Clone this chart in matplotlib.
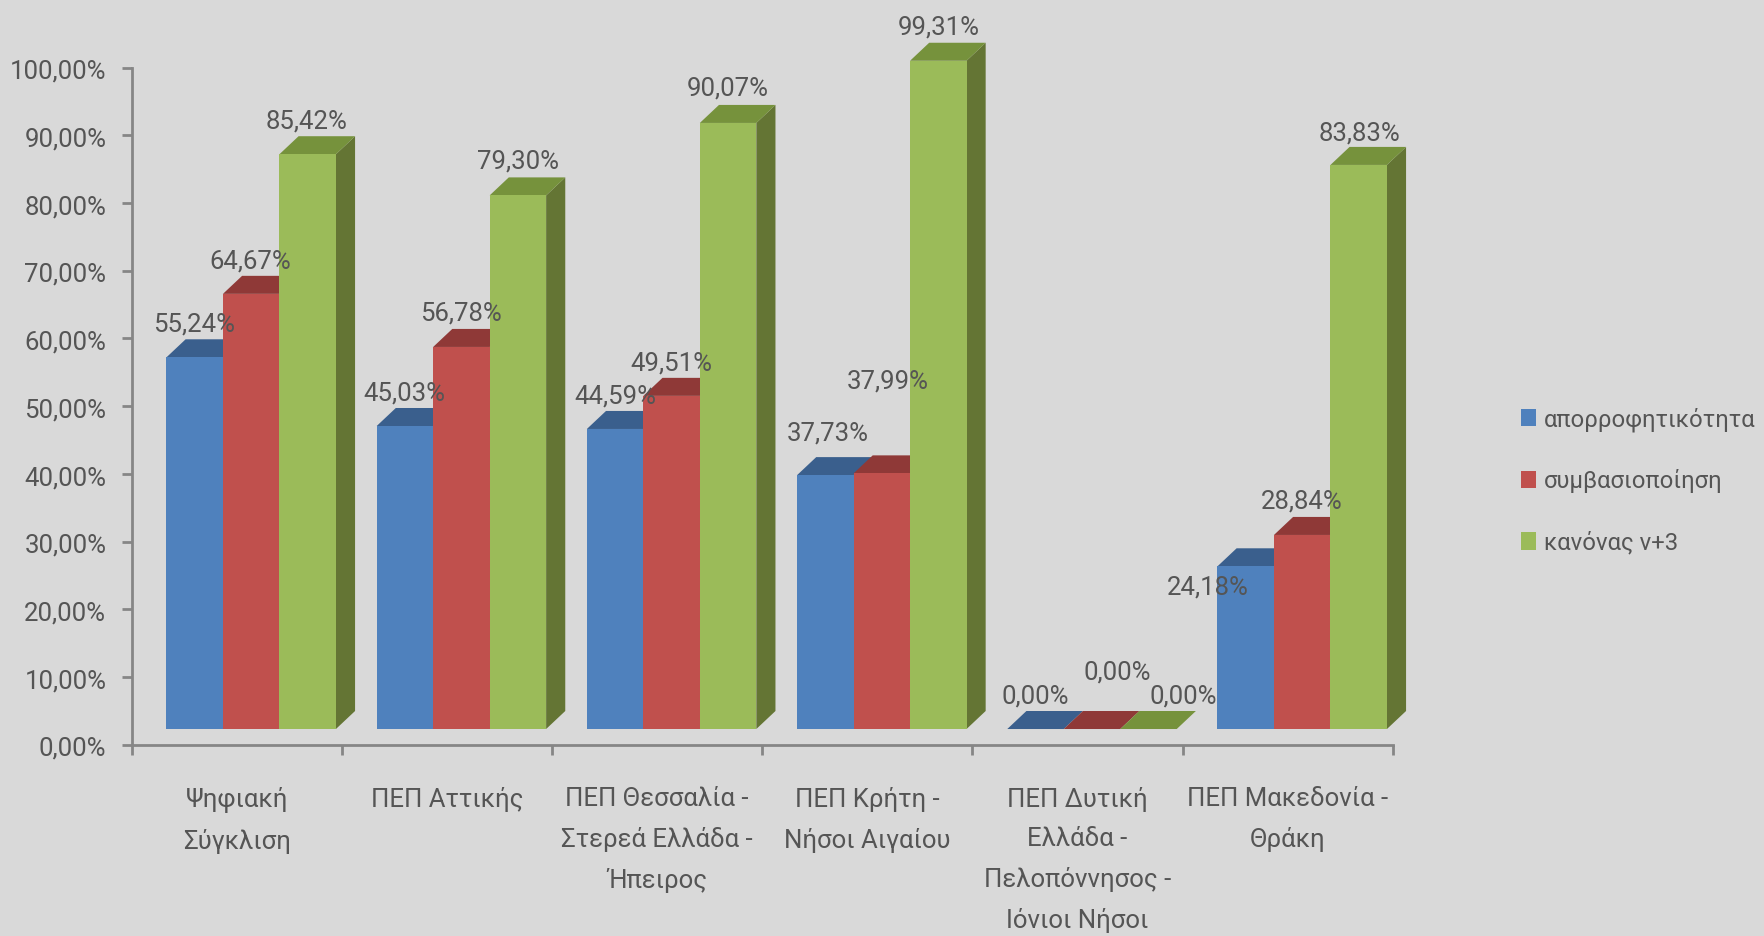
import matplotlib
matplotlib.use("Agg")
import matplotlib.pyplot as plt
from matplotlib.patches import Patch
from matplotlib.transforms import ScaledTranslation

plt.rcParams['font.family'] = ['Roboto', 'Liberation Sans', 'DejaVu Sans']

categories = ["Ψηφιακή\nΣύγκλιση", "ΠΕΠ Αττικής", "ΠΕΠ Θεσσαλία -\nΣτερεά Ελλάδα -\nΉπειρος",
              "ΠΕΠ Κρήτη -\nΝήσοι Αιγαίου", "ΠΕΠ Δυτική\nΕλλάδα -\nΠελοπόννησος -\nΙόνιοι Νήσοι",
              "ΠΕΠ Μακεδονία -\nΘράκη"]
series_names = ["απορροφητικότητα", "συμβασιοποίηση", "κανόνας ν+3"]
absorption = [55.24, 45.03, 44.59, 37.73, 0.00, 24.18]
contracting = [64.67, 56.78, 49.51, 37.99, 0.00, 28.84]
n3_rule = [85.42, 79.30, 90.07, 99.31, 0.00, 83.83]
series = [absorption, contracting, n3_rule]

front = ["#4F81BD", "#C0504D", "#9BBB59"]
top = ["#3A5F8D", "#8F3937", "#76923C"]
side = ["#2F4D73", "#743030", "#647534"]
BG = "#D9D9D9"
TXT = "#555555"
AX = "#868686"
FS = 18.5

# label offsets in image pixels, relative to the bar's front top centre
label_dx = [[-1, -1, 0, 2, 0, -38], [-1, 0, 0, 6, 25, 0], [-1, 0, 0, 0, 35, 1]]
label_dy = [[33, 33, 32, 42, 33, -21], [32, 33, 32, 92, 57, 33], [33, 34, 34, 33, 33, 31]]

W, H = 1764, 936
fig = plt.figure(figsize=(W / 100, H / 100), dpi=100, facecolor=BG)
L, R, T, B = 131.6, 1392.8, 67.5, 744.8
ax = fig.add_axes([L / W, 1 - B / H, (R - L) / W, (B - T) / H], facecolor=BG)
ax.set_xlim(0, 6)
ax.set_ylim(0, 100)

bar_w = 0.2687
start = 0.166
dx3, dy3 = 0.091, 2.66
base = 2.33
depth_scale = 0.9935  # front plane of the 3D box is slightly smaller than the axis

for s, vals in enumerate(series):
    for g, v in enumerate(vals):
        x0 = g + start + s * bar_w
        x1 = x0 + bar_w
        h = v * depth_scale
        yt = base + h
        ax.fill([x1, x1 + dx3, x1 + dx3, x1], [base, base + dy3, yt + dy3, yt],
                color=side[s], lw=0, clip_on=False, zorder=2 + s)
        ax.fill([x0, x0 + dx3, x1 + dx3, x1], [yt, yt + dy3, yt + dy3, yt],
                color=top[s], lw=0, clip_on=False, zorder=2 + s)
        ax.bar(x0, h, bar_w, bottom=base, align='edge', color=front[s], lw=0,
               clip_on=False, zorder=2 + s)

for s, vals in enumerate(series):
    for g, v in enumerate(vals):
        xc = g + start + (s + 0.5) * bar_w
        ax.annotate(f"{v:.2f}%".replace('.', ','), (xc, base + v * depth_scale),
                    xytext=(label_dx[s][g] * 0.72, label_dy[s][g] * 0.72),
                    textcoords='offset points', ha='center', va='center',
                    fontsize=FS, color=TXT, annotation_clip=False, zorder=10)

for sp in ['top', 'right']:
    ax.spines[sp].set_visible(False)
for sp in ['left', 'bottom']:
    ax.spines[sp].set_color(AX)
    ax.spines[sp].set_linewidth(2)

ax.set_yticks(range(0, 101, 10))
ax.set_yticklabels([f"{t},00%" for t in range(0, 101, 10)], fontsize=FS, color=TXT)
ax.tick_params(axis='y', length=7.2, width=2, color=AX, pad=11)
shift = ScaledTranslation(0, -1.2 / 72, fig.dpi_scale_trans)
for lbl in ax.get_yticklabels():
    lbl.set_transform(lbl.get_transform() + shift)
ax.set_xticks(range(7))
ax.set_xticklabels([])
ax.tick_params(axis='x', which='major', length=7.2, width=2, color=AX)
ax.set_xticks([g + 0.5 for g in range(6)], minor=True)
ax.set_xticklabels(categories, minor=True, fontsize=FS, color=TXT, linespacing=1.8)
ax.tick_params(axis='x', which='minor', length=0, pad=30.5)

handles = [Patch(facecolor=c, edgecolor='none') for c in front]
fig.legend(handles, series_names, loc='upper left', bbox_to_anchor=(1521 / W, 1 - 407 / H),
           bbox_transform=fig.transFigure, frameon=False, fontsize=17.2, labelcolor=TXT,
           handlelength=0.61, handleheight=0.75, handletextpad=0.34, labelspacing=1.57,
           borderpad=0, borderaxespad=0)

fig.savefig("out.png", dpi=100, facecolor=BG)
